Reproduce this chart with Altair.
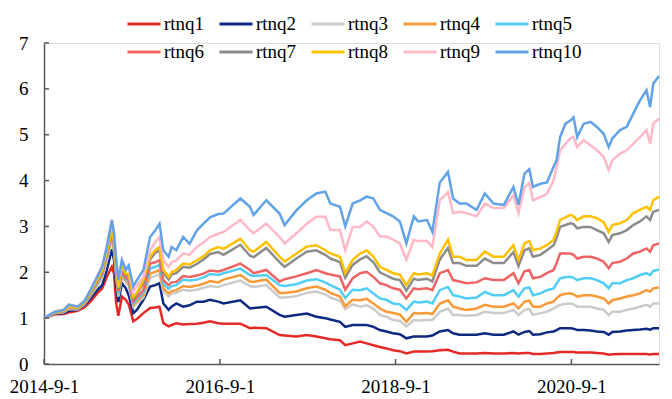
import altair as alt
import pandas as pd

dates = [
    "2014-09-01", "2014-10-13", "2014-11-22", "2014-12-13", "2015-01-19", "2015-02-16",
    "2015-03-13", "2015-04-10", "2015-05-01", "2015-05-20", "2015-06-10", "2015-06-19",
    "2015-06-28", "2015-07-07", "2015-07-22", "2015-08-07", "2015-08-19", "2015-09-07",
    "2015-09-22", "2015-10-19", "2015-11-16", "2015-12-07", "2015-12-25", "2016-01-10",
    "2016-02-01", "2016-02-13", "2016-03-04", "2016-04-01", "2016-04-28", "2016-05-28",
    "2016-06-25", "2016-07-22", "2016-08-25", "2016-09-16", "2016-11-25", "2017-01-04",
    "2017-01-19", "2017-03-13", "2017-05-07", "2017-05-28", "2017-07-16", "2017-08-28",
    "2017-10-07", "2017-11-13", "2017-12-04", "2018-01-13", "2018-02-04", "2018-03-07",
    "2018-04-07", "2018-05-04", "2018-06-01", "2018-06-28", "2018-07-25", "2018-08-22",
    "2018-09-19", "2018-10-16", "2018-11-16", "2018-12-04", "2019-01-10", "2019-02-01",
    "2019-03-04", "2019-04-07", "2019-04-28", "2019-05-25", "2019-06-22", "2019-08-04",
    "2019-09-07", "2019-10-13", "2019-11-25", "2020-01-04", "2020-01-25", "2020-02-19",
    "2020-03-10", "2020-03-25", "2020-04-25", "2020-05-22", "2020-06-19", "2020-07-01",
    "2020-07-16", "2020-08-07", "2020-08-28", "2020-09-10", "2020-09-25", "2020-10-22",
    "2020-11-19", "2020-12-16", "2021-01-13", "2021-02-03", "2021-02-18", "2021-03-22",
    "2021-04-19", "2021-05-16", "2021-06-13", "2021-07-10", "2021-07-25", "2021-08-07",
    "2021-08-31",
]

rtnq1 = [
    1.00, 1.08, 1.09, 1.12, 1.16, 1.24, 1.36, 1.54, 1.65, 1.90, 2.12, 1.97, 1.32, 1.05, 1.47,
    1.40, 1.30, 0.93, 0.98, 1.11, 1.22, 1.23, 1.25, 0.89, 0.82, 0.85, 0.89, 0.86, 0.87, 0.88,
    0.90, 0.93, 0.89, 0.88, 0.88, 0.78, 0.79, 0.78, 0.63, 0.62, 0.60, 0.63, 0.60, 0.56, 0.54,
    0.52, 0.41, 0.45, 0.49, 0.45, 0.41, 0.37, 0.34, 0.30, 0.28, 0.23, 0.27, 0.27, 0.27, 0.28,
    0.30, 0.31, 0.27, 0.23, 0.23, 0.23, 0.24, 0.23, 0.23, 0.24, 0.23, 0.24, 0.24, 0.22, 0.22,
    0.23, 0.24, 0.25, 0.26, 0.26, 0.26, 0.26, 0.25, 0.25, 0.25, 0.24, 0.23, 0.20, 0.21, 0.22,
    0.22, 0.22, 0.22, 0.22, 0.21, 0.22, 0.22,
]
rtnq2 = [
    1.00, 1.09, 1.11, 1.16, 1.18, 1.28, 1.43, 1.61, 1.72, 2.05, 2.50, 2.26, 1.69, 1.35, 1.76,
    1.65, 1.50, 1.11, 1.18, 1.40, 1.69, 1.72, 1.76, 1.32, 1.18, 1.25, 1.32, 1.25, 1.28, 1.36,
    1.36, 1.40, 1.36, 1.32, 1.39, 1.21, 1.22, 1.25, 1.07, 1.03, 1.07, 1.10, 1.03, 1.00, 0.97,
    0.92, 0.81, 0.85, 0.85, 0.85, 0.81, 0.74, 0.71, 0.67, 0.65, 0.56, 0.60, 0.60, 0.60, 0.62,
    0.71, 0.74, 0.67, 0.64, 0.64, 0.64, 0.67, 0.64, 0.64, 0.71, 0.64, 0.70, 0.72, 0.64, 0.65,
    0.69, 0.71, 0.74, 0.78, 0.78, 0.78, 0.77, 0.74, 0.74, 0.73, 0.71, 0.70, 0.64, 0.70, 0.71,
    0.73, 0.74, 0.75, 0.77, 0.75, 0.78, 0.78,
]
rtnq3 = [
    1.00, 1.10, 1.13, 1.20, 1.19, 1.30, 1.48, 1.70, 1.88, 2.25, 2.70, 2.45, 1.90, 1.47, 1.90,
    1.78, 1.70, 1.25, 1.32, 1.45, 1.88, 1.92, 1.96, 1.58, 1.47, 1.53, 1.55, 1.62, 1.60, 1.62,
    1.66, 1.70, 1.68, 1.72, 1.82, 1.70, 1.68, 1.72, 1.45, 1.45, 1.48, 1.55, 1.58, 1.52, 1.45,
    1.38, 1.20, 1.30, 1.25, 1.28, 1.21, 1.07, 1.03, 0.96, 0.94, 0.82, 0.96, 0.95, 0.96, 0.96,
    1.14, 1.21, 1.07, 1.07, 1.05, 1.07, 1.14, 1.11, 1.11, 1.18, 1.07, 1.18, 1.20, 1.07, 1.11,
    1.14, 1.21, 1.25, 1.29, 1.31, 1.32, 1.30, 1.25, 1.25, 1.25, 1.21, 1.18, 1.07, 1.14, 1.14,
    1.18, 1.21, 1.25, 1.29, 1.25, 1.32, 1.32,
]
rtnq4 = [
    1.00, 1.10, 1.14, 1.22, 1.20, 1.31, 1.50, 1.74, 1.93, 2.32, 2.78, 2.52, 1.96, 1.51, 1.95,
    1.82, 1.76, 1.29, 1.37, 1.51, 1.97, 2.01, 2.05, 1.65, 1.54, 1.59, 1.61, 1.70, 1.68, 1.71,
    1.75, 1.81, 1.78, 1.84, 1.94, 1.80, 1.79, 1.84, 1.55, 1.55, 1.58, 1.65, 1.69, 1.62, 1.55,
    1.47, 1.26, 1.40, 1.39, 1.42, 1.32, 1.21, 1.14, 1.11, 1.08, 0.92, 1.11, 1.10, 1.11, 1.09,
    1.32, 1.39, 1.25, 1.21, 1.18, 1.21, 1.29, 1.25, 1.25, 1.32, 1.21, 1.36, 1.38, 1.25, 1.25,
    1.32, 1.36, 1.43, 1.50, 1.53, 1.54, 1.52, 1.47, 1.50, 1.50, 1.47, 1.43, 1.32, 1.39, 1.43,
    1.47, 1.50, 1.54, 1.61, 1.58, 1.65, 1.67,
]
rtnq5 = [
    1.00, 1.11, 1.14, 1.23, 1.21, 1.32, 1.52, 1.76, 1.96, 2.36, 2.82, 2.56, 2.00, 1.54, 1.98,
    1.85, 1.80, 1.33, 1.41, 1.56, 2.08, 2.12, 2.16, 1.75, 1.64, 1.70, 1.72, 1.84, 1.82, 1.84,
    1.89, 1.96, 1.94, 1.98, 2.08, 1.94, 1.92, 1.94, 1.72, 1.70, 1.74, 1.82, 1.85, 1.78, 1.72,
    1.62, 1.44, 1.62, 1.61, 1.65, 1.54, 1.43, 1.40, 1.32, 1.30, 1.18, 1.36, 1.34, 1.36, 1.32,
    1.61, 1.68, 1.50, 1.47, 1.43, 1.45, 1.57, 1.50, 1.50, 1.61, 1.47, 1.65, 1.67, 1.50, 1.54,
    1.61, 1.65, 1.75, 1.87, 1.89, 1.90, 1.88, 1.83, 1.87, 1.87, 1.83, 1.76, 1.65, 1.76, 1.76,
    1.83, 1.87, 1.94, 1.98, 1.94, 2.03, 2.06,
]
rtnq6 = [
    1.00, 1.11, 1.15, 1.24, 1.22, 1.33, 1.54, 1.79, 2.00, 2.40, 2.86, 2.60, 2.04, 1.58, 2.02,
    1.88, 1.84, 1.36, 1.45, 1.61, 2.19, 2.22, 2.26, 1.83, 1.72, 1.78, 1.79, 1.92, 1.90, 1.93,
    1.97, 2.04, 2.02, 2.05, 2.19, 2.05, 1.98, 2.05, 1.80, 1.85, 1.91, 1.98, 2.05, 1.98, 1.95,
    1.91, 1.62, 1.87, 1.98, 2.01, 1.90, 1.76, 1.72, 1.65, 1.62, 1.43, 1.65, 1.63, 1.65, 1.61,
    1.98, 2.05, 1.83, 1.80, 1.76, 1.78, 1.87, 1.83, 1.83, 1.98, 1.76, 2.02, 2.05, 1.87, 1.90,
    1.98, 2.05, 2.20, 2.41, 2.41, 2.41, 2.38, 2.30, 2.34, 2.34, 2.30, 2.23, 2.09, 2.20, 2.23,
    2.30, 2.41, 2.45, 2.52, 2.45, 2.59, 2.63,
]
rtnq7 = [
    1.00, 1.12, 1.16, 1.25, 1.22, 1.34, 1.56, 1.82, 2.03, 2.44, 2.90, 2.64, 2.08, 1.63, 2.08,
    1.94, 1.92, 1.43, 1.52, 1.77, 2.28, 2.42, 2.48, 1.99, 1.84, 1.95, 1.98, 2.12, 2.10, 2.18,
    2.28, 2.40, 2.44, 2.38, 2.60, 2.36, 2.33, 2.53, 2.22, 2.12, 2.30, 2.45, 2.48, 2.38, 2.30,
    2.22, 1.88, 2.16, 2.28, 2.35, 2.22, 2.00, 1.93, 1.86, 1.83, 1.60, 1.86, 1.83, 1.86, 1.80,
    2.28, 2.53, 2.20, 2.20, 2.14, 2.14, 2.30, 2.20, 2.20, 2.44, 2.14, 2.48, 2.52, 2.34, 2.38,
    2.48, 2.59, 2.74, 2.99, 3.03, 3.07, 3.05, 2.96, 2.99, 2.99, 2.92, 2.85, 2.66, 2.81, 2.85,
    2.92, 3.03, 3.11, 3.22, 3.14, 3.32, 3.36,
]
rtnq8 = [
    1.00, 1.12, 1.16, 1.25, 1.23, 1.35, 1.57, 1.84, 2.05, 2.46, 2.93, 2.67, 2.12, 1.67, 2.12,
    1.97, 1.96, 1.47, 1.56, 1.83, 2.34, 2.48, 2.55, 2.05, 1.90, 2.00, 2.05, 2.19, 2.17, 2.26,
    2.35, 2.48, 2.55, 2.51, 2.73, 2.48, 2.45, 2.66, 2.34, 2.23, 2.41, 2.56, 2.59, 2.48, 2.41,
    2.34, 1.98, 2.27, 2.41, 2.48, 2.34, 2.12, 2.05, 1.98, 1.95, 1.72, 1.98, 1.95, 1.98, 1.93,
    2.41, 2.71, 2.34, 2.34, 2.27, 2.27, 2.45, 2.34, 2.34, 2.59, 2.27, 2.63, 2.68, 2.48, 2.52,
    2.59, 2.71, 2.88, 3.14, 3.20, 3.25, 3.22, 3.14, 3.22, 3.22, 3.18, 3.09, 2.88, 3.03, 3.07,
    3.14, 3.29, 3.36, 3.43, 3.36, 3.57, 3.65,
]
rtnq9 = [
    1.00, 1.14, 1.19, 1.30, 1.26, 1.38, 1.62, 1.92, 2.14, 2.57, 3.15, 2.86, 2.28, 1.84, 2.28,
    2.06, 2.14, 1.58, 1.70, 1.90, 2.48, 2.65, 2.77, 2.26, 2.12, 2.22, 2.26, 2.41, 2.38, 2.55,
    2.65, 2.77, 2.84, 2.88, 3.14, 2.92, 2.85, 3.06, 2.77, 2.63, 2.85, 3.06, 3.21, 3.21, 2.92,
    2.92, 2.48, 2.99, 2.99, 3.11, 2.99, 2.78, 2.78, 2.71, 2.63, 2.27, 2.71, 2.68, 2.68, 2.55,
    3.57, 3.75, 3.29, 3.32, 3.29, 3.22, 3.50, 3.40, 3.40, 3.68, 3.29, 3.85, 3.95, 3.57, 3.64,
    3.71, 4.00, 4.30, 4.66, 4.80, 4.92, 4.95, 4.73, 4.88, 4.77, 4.66, 4.52, 4.23, 4.44, 4.59,
    4.66, 4.80, 4.95, 5.10, 4.80, 5.24, 5.35,
]
rtnq10 = [
    1.00, 1.13, 1.18, 1.29, 1.25, 1.37, 1.61, 1.90, 2.12, 2.55, 3.13, 2.84, 2.26, 1.83, 2.26,
    2.05, 2.15, 1.69, 1.83, 2.05, 2.77, 2.91, 3.06, 2.48, 2.34, 2.55, 2.48, 2.77, 2.62, 2.91,
    3.06, 3.20, 3.27, 3.28, 3.61, 3.43, 3.25, 3.57, 3.28, 3.03, 3.35, 3.57, 3.72, 3.76, 3.50,
    3.43, 3.00, 3.50, 3.57, 3.65, 3.61, 3.36, 3.29, 3.22, 3.11, 2.63, 3.22, 3.11, 3.14, 2.88,
    3.96, 4.19, 3.61, 3.50, 3.50, 3.36, 3.72, 3.50, 3.47, 3.86, 3.47, 4.15, 4.25, 3.86, 3.93,
    3.96, 4.30, 4.44, 4.95, 5.24, 5.31, 5.38, 4.95, 5.24, 5.28, 5.17, 5.02, 4.73, 4.92, 5.10,
    5.17, 5.46, 5.75, 5.97, 5.60, 6.11, 6.28,
]

names = ["rtnq1", "rtnq2", "rtnq3", "rtnq4", "rtnq5",
         "rtnq6", "rtnq7", "rtnq8", "rtnq9", "rtnq10"]
colors = ["#E42A26", "#0E2A80", "#CBCBCB", "#F99A38", "#52CDF5",
          "#EE6464", "#8C8C8C", "#FFC000", "#FFB9C6", "#62A2E6"]
series = [rtnq1, rtnq2, rtnq3, rtnq4, rtnq5, rtnq6, rtnq7, rtnq8, rtnq9, rtnq10]

y_ticks = [0, 1, 2, 3, 4, 5, 6, 7]
x_tick_dates = ["2014-09-01", "2016-09-01", "2018-09-01", "2020-09-01"]

rows = []
for name, vals in zip(names, series):
    for d, v in zip(dates, vals):
        rows.append({"date": d, "series": name, "value": v})
df = pd.DataFrame(rows)

W, H = 615, 321
FONT = "Liberation Serif"
AXIS_COLOR = "#595959"

x_scale = alt.Scale(type="utc", domain=[
    alt.DateTime(year=2014, month=9, date=1, utc=True),
    alt.DateTime(year=2021, month=8, date=31, utc=True)])
y_scale = alt.Scale(domain=[0, 7], nice=False, zero=True)

x_axis = alt.Axis(
    values=[alt.DateTime(year=int(s[:4]), month=int(s[5:7]), date=int(s[8:]), utc=True)
            for s in x_tick_dates],
    labelExpr="utcFormat(datum.value, '%Y-%-m-%-d')",
    title=None, grid=False, ticks=False,
    labelFont=FONT, labelFontSize=19, labelColor="black", labelPadding=13,
    domainColor=AXIS_COLOR, domainWidth=1.5, labelFlush=False, labelOverlap=False)
y_axis = alt.Axis(
    values=y_ticks, format="d", title=None, grid=False, ticks=False,
    labelFont=FONT, labelFontSize=19, labelColor="black", labelPadding=16,
    domainColor=AXIS_COLOR, domainWidth=1.5)

lines = alt.Chart(df).mark_line(strokeWidth=2.5).encode(
    x=alt.X("date:T", scale=x_scale, axis=x_axis),
    y=alt.Y("value:Q", scale=y_scale, axis=y_axis),
    color=alt.Color("series:N", title=None,
                    scale=alt.Scale(domain=names, range=colors),
                    legend=alt.Legend(orient="none", legendX=82, legendY=-37,
                                      direction="horizontal", columns=5,
                                      symbolType="stroke", symbolSize=1089,
                                      symbolStrokeWidth=3, labelFont=FONT,
                                      labelFontSize=19, labelColor="black",
                                      labelOffset=2, columnPadding=8, rowPadding=-3,
                                      padding=0)),
)

ytick_df = pd.DataFrame({"value": y_ticks})
yticks = alt.Chart(ytick_df).mark_rule(color=AXIS_COLOR, strokeWidth=1.5).encode(
    y=alt.Y("value:Q", scale=y_scale, axis=y_axis),
    x=alt.value(0), x2=alt.value(5))

xtick_df = pd.DataFrame({"date": x_tick_dates})
xticks = alt.Chart(xtick_df).mark_rule(color=AXIS_COLOR, strokeWidth=1.5).encode(
    x=alt.X("date:T", scale=x_scale, axis=x_axis),
    y=alt.value(H), y2=alt.value(H - 5))

chart = alt.layer(lines, yticks, xticks).properties(
    width=W, height=H,
    autosize=alt.AutoSizeParams(type="none"),
    padding={"left": 36, "top": 35, "right": 5, "bottom": 35},
).configure_view(stroke=None).configure_legend(
    labelFont=FONT, labelFontSize=19, labelColor="black"
).configure(font=FONT)

chart.save("out.html", embed_options={"renderer": "svg", "actions": False})
